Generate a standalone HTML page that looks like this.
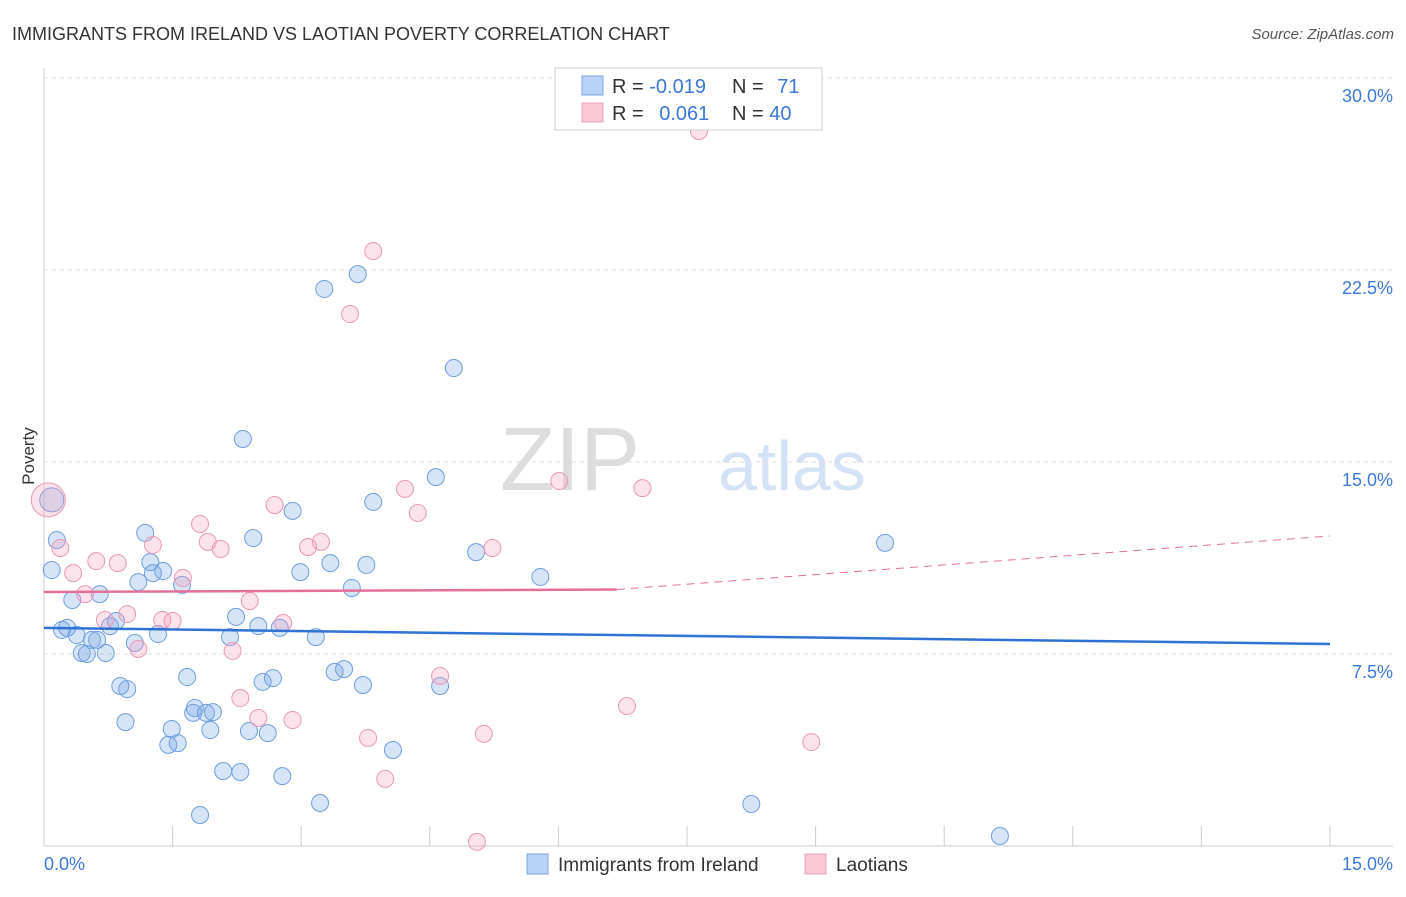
<!DOCTYPE html>
<html><head><meta charset="utf-8"><style>
body{margin:0;background:#fff;font-family:"Liberation Sans",sans-serif;}
svg text{font-family:"Liberation Sans",sans-serif;}
</style></head><body>
<svg width="1406" height="892" xmlns="http://www.w3.org/2000/svg">
<text x="12" y="40" font-size="18" fill="#333">IMMIGRANTS FROM IRELAND VS LAOTIAN POVERTY CORRELATION CHART</text>
<text x="1394" y="39" font-size="15" fill="#555" text-anchor="end" font-style="italic">Source: ZipAtlas.com</text>
<text x="640" y="490" font-size="90" fill="#ddd" text-anchor="end" font-family="Liberation Serif">ZIP</text>
<text x="718" y="490" font-size="70" fill="#d4e2f5">atlas</text>
<g id="grid"></g>
<g id="axes"></g>
<g id="marks"></g>
<text x="34" y="456" font-size="17" fill="#333" text-anchor="middle" transform="rotate(-90 34 456)">Poverty</text>
<g>
<rect x="555" y="68" width="267" height="62" fill="#fff" stroke="#ccc"/>
<rect x="582" y="76" width="21" height="19" fill="#b8d3f5" stroke="#7aa6e0"/>
<rect x="582" y="103" width="21" height="19" fill="#fbc8d7" stroke="#eea0ba"/>
<text x="612" y="93" font-size="20" fill="#333">R = <tspan fill="#3b78d8">-0.019</tspan></text>
<text x="732" y="93" font-size="20" fill="#333">N = <tspan fill="#3b78d8" dx="8">71</tspan></text>
<text x="612" y="120" font-size="20" fill="#333">R = <tspan fill="#3b78d8" dx="10">0.061</tspan></text>
<text x="732" y="120" font-size="20" fill="#333">N = <tspan fill="#3b78d8">40</tspan></text>
</g>
<g>
<rect x="527" y="854" width="21" height="20" fill="#b8d3f5" stroke="#7aa6e0"/>
<text x="558" y="871" font-size="19" fill="#333">Immigrants from Ireland</text>
<rect x="805" y="854" width="21" height="20" fill="#fbc8d7" stroke="#eea0ba"/>
<text x="836" y="871" font-size="19" fill="#333">Laotians</text>
</g>
</svg>
<script>
const blueX=[0.09,0.15,0.09,0.21,0.27,0.33,0.38,0.44,0.50,0.56,0.62,0.65,0.72,0.77,0.84,0.89,0.97,0.95,1.06,1.10,1.18,1.24,1.27,1.33,1.39,1.45,1.49,1.56,1.61,1.67,1.74,1.76,1.82,1.89,1.94,1.97,2.09,2.17,2.24,2.29,2.32,2.39,2.44,2.50,2.55,2.61,2.67,2.75,2.78,2.90,2.99,3.17,3.22,3.27,3.34,3.39,3.50,3.59,3.66,3.72,3.76,3.84,4.07,4.57,4.62,4.78,5.04,5.79,8.25,9.81,11.15];
const blueY=[13.52,11.95,10.78,8.44,8.52,9.61,8.24,7.54,7.50,8.05,8.05,9.84,7.54,8.59,8.79,6.25,6.13,4.84,7.93,10.31,12.23,11.09,10.66,8.28,10.74,3.95,4.57,4.02,10.20,6.60,5.20,5.39,1.21,5.20,4.53,5.23,2.93,8.16,8.95,2.89,15.90,4.49,12.03,8.59,6.41,4.41,6.56,8.52,2.73,13.09,10.70,8.16,1.68,21.76,11.05,6.80,6.91,10.08,22.34,6.29,10.98,13.44,3.75,14.41,6.25,18.67,11.48,10.51,1.64,11.84,0.39];
const pinkX=[0.05,0.19,0.34,0.48,0.61,0.71,0.86,0.97,1.10,1.27,1.38,1.50,1.62,1.82,1.91,2.06,2.20,2.29,2.40,2.50,2.69,2.79,2.90,3.08,3.23,3.57,3.78,3.84,3.98,4.21,4.36,4.62,5.05,5.13,5.23,6.01,6.80,6.98,7.64,8.95];
const pinkY=[13.52,11.64,10.66,9.84,11.13,8.83,11.05,9.06,7.70,11.76,8.83,8.79,10.47,12.58,11.88,11.60,7.62,5.78,9.57,5.00,13.32,8.71,4.92,11.68,11.88,20.78,4.22,23.24,2.62,13.95,13.01,6.64,0.16,4.38,11.64,14.26,5.47,13.98,27.93,4.06];
const yTicks=[7.5,15.0,22.5,30.0];
const blueTrend=[8.52,7.89];
const pinkTrend=[9.92,12.11];
const pinkSolidEnd=10.02;
const NS='http://www.w3.org/2000/svg';
const X=v=>44+v/15*1286, Y=v=>846-v/7.5*192;
function mk(t,a,p){const e=document.createElementNS(NS,t);for(const k in a)e.setAttribute(k,a[k]);p.appendChild(e);return e;}
const grid=document.getElementById('grid'),axes=document.getElementById('axes'),marks=document.getElementById('marks');
yTicks.forEach(t=>{const l=mk('line',{x1:44,x2:1393,y1:Y(t),y2:Y(t),stroke:'#ddd','stroke-dasharray':'4,4'},grid);

const tx=mk('text',{x:1393,y:Y(t)+24,'font-size':18,fill:'#3b78d8','text-anchor':'end'},axes);tx.textContent=t.toFixed(1)+'%';
});
let a=mk('line',{x1:44,x2:44,y1:68,y2:846,stroke:'#ccc'},axes);
a=mk('line',{x1:44,x2:1393,y1:846,y2:846,stroke:'#ccc'},axes);
for(let i=0;i<=10;i++){const l=mk('line',{x1:X(i*1.5),x2:X(i*1.5),y1:826,y2:846,stroke:'#ccc'},axes);}
let t=mk('text',{x:44,y:870,'font-size':18,fill:'#3b78d8'},axes);t.textContent='0.0%';
t=mk('text',{x:1393,y:870,'font-size':18,fill:'#3b78d8','text-anchor':'end'},axes);t.textContent='15.0%';
function pts(xs,ys,fill,stroke,name){xs.forEach((x,i)=>{const r=i===0?(name==='laotian-point'?17:12):8.5;
const c=mk('circle',{cx:X(x),cy:Y(ys[i]),r:r,fill:fill,stroke:stroke,'stroke-width':1},marks);
});}
pts(blueX,blueY,'rgba(120,165,230,0.3)','#6f9ee0','ireland-point');
pts(pinkX,pinkY,'rgba(245,160,190,0.3)','#eb98b5','laotian-point');
let l=mk('line',{x1:X(0),y1:Y(blueTrend[0]),x2:X(15),y2:Y(blueTrend[1]),stroke:'#2f72d6','stroke-width':2.5},marks);

const px=10.02/15*15*0+6.68;
l=mk('line',{x1:X(0),y1:Y(pinkTrend[0]),x2:X(px),y2:Y(pinkSolidEnd),stroke:'#e4709a','stroke-width':2.5},marks);

l=mk('line',{x1:X(px),y1:Y(pinkSolidEnd),x2:X(15),y2:Y(pinkTrend[1]),stroke:'#e4709a','stroke-width':1,'stroke-dasharray':'8,6'},marks);

</script>
</body></html>
